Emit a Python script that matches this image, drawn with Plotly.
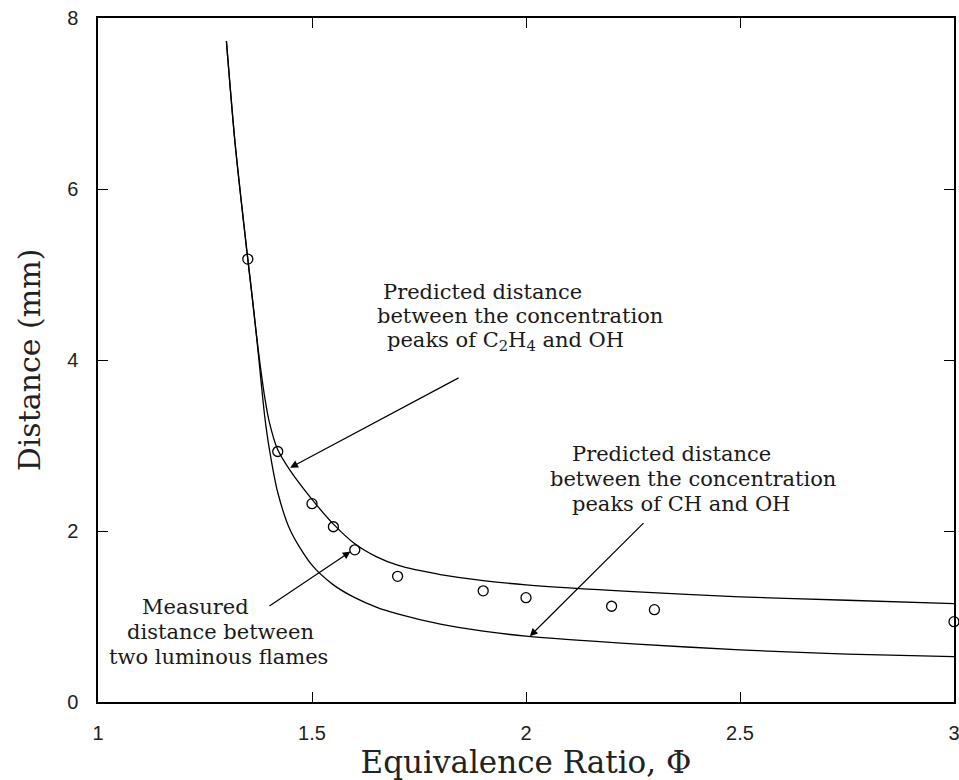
import plotly.graph_objects as go

# ---- data ----
phi_c2h4 = [1.30, 1.32, 1.34, 1.35, 1.36, 1.37, 1.38, 1.39, 1.40, 1.42, 1.45,
            1.50, 1.55, 1.60, 1.65, 1.70, 1.80, 1.90, 2.00, 2.25, 2.50, 2.75, 3.00]
dist_c2h4 = [7.73, 6.55, 5.62, 5.18, 4.75, 4.30, 3.90, 3.55, 3.28, 2.95, 2.70,
             2.37, 2.08, 1.85, 1.70, 1.60, 1.49, 1.42, 1.37, 1.29, 1.23, 1.19, 1.15]

phi_ch = [1.30, 1.32, 1.34, 1.35, 1.36, 1.37, 1.38, 1.39, 1.40, 1.42, 1.45,
          1.50, 1.55, 1.60, 1.65, 1.70, 1.80, 1.90, 2.00, 2.25, 2.50, 2.75, 3.00]
dist_ch = [7.73, 6.55, 5.62, 5.18, 4.75, 4.30, 3.80, 3.32, 2.97, 2.45, 2.00,
           1.60, 1.37, 1.22, 1.11, 1.03, 0.91, 0.83, 0.77, 0.68, 0.61, 0.56, 0.53]

phi_meas = [1.35, 1.42, 1.50, 1.55, 1.60, 1.70, 1.90, 2.00, 2.20, 2.30, 3.00]
dist_meas = [5.18, 2.93, 2.32, 2.05, 1.78, 1.47, 1.30, 1.22, 1.12, 1.08, 0.94]

x_ticks = [1, 1.5, 2, 2.5, 3]
x_tick_text = ["1", "1.5", "2", "2.5", "3"]
y_ticks = [0, 2, 4, 6, 8]
y_tick_text = ["0", "2", "4", "6", "8"]

SERIF = "DejaVu Serif"
SANS = "Liberation Sans"

fig = go.Figure()
line_style = dict(color="black", width=1.3, shape="spline", smoothing=0.8)
fig.add_trace(go.Scatter(x=phi_c2h4, y=dist_c2h4, mode="lines", line=line_style,
                         showlegend=False, hoverinfo="skip"))
fig.add_trace(go.Scatter(x=phi_ch, y=dist_ch, mode="lines", line=line_style,
                         showlegend=False, hoverinfo="skip"))
fig.add_trace(go.Scatter(x=phi_meas, y=dist_meas, mode="markers",
                         marker=dict(symbol="circle-open", size=10, color="black",
                                     line=dict(width=1.3, color="black")),
                         cliponaxis=False, showlegend=False))

text_font = dict(family=SERIF, size=21, color="#1a1a1a")

def text_lines(lines, x0, y0, dy):
    for i, (t, dx) in enumerate(lines):
        fig.add_annotation(x=x0 + dx, y=y0 - i * dy, xref="x", yref="y", text=t,
                           showarrow=False, xanchor="left", yanchor="middle",
                           font=text_font)

def arrow(x_tail, y_tail, x_head, y_head):
    fig.add_annotation(x=x_head, y=y_head, ax=x_tail, ay=y_tail,
                       xref="x", yref="y", axref="x", ayref="y", text="",
                       showarrow=True, arrowhead=2, arrowsize=1.3,
                       arrowwidth=1.2, arrowcolor="black", standoff=0)

text_lines([("Predicted distance", 0.014), ("between the concentration", 0.0),
            ("peaks of C<sub>2</sub>H<sub>4</sub> and OH", 0.023)],
           1.647, 4.80, 0.29)
arrow(1.846, 3.80, 1.449, 2.74)

text_lines([("Predicted distance", 0.052), ("between the concentration", 0.0),
            ("peaks of CH and OH", 0.052)],
           2.051, 2.90, 0.29)
arrow(2.278, 2.11, 2.009, 0.77)

text_lines([("Measured", 0.077), ("distance between", 0.042),
            ("two luminous flames", 0.0)],
           1.021, 1.11, 0.29)
arrow(1.397, 1.11, 1.59, 1.76)

axis_common = dict(showline=True, linecolor="black", linewidth=1.5, mirror="ticks",
                   ticks="inside", ticklen=10, tickwidth=1.3, tickcolor="black",
                   showgrid=False, zeroline=False,
                   tickfont=dict(family=SANS, size=20, color="#222"))

fig.update_xaxes(range=[1, 3], tickvals=x_ticks, ticktext=x_tick_text,
                 ticklabelstandoff=12, ticklabeloverflow="allow",
                 title=dict(text="Equivalence Ratio, Φ", standoff=6,
                            font=dict(family=SERIF, size=31, color="#222")),
                 **axis_common)
fig.update_yaxes(range=[0, 8], tickvals=y_ticks, ticktext=y_tick_text,
                 ticklabelstandoff=14, ticklabeloverflow="allow",
                 title=dict(text="Distance (mm)", standoff=18,
                            font=dict(family=SERIF, size=30, color="#222")),
                 **axis_common)

fig.update_layout(width=959, height=780, plot_bgcolor="white", paper_bgcolor="white",
                  margin=dict(l=98, r=5, t=18, b=78, autoexpand=False))

fig.write_html("out.html")
